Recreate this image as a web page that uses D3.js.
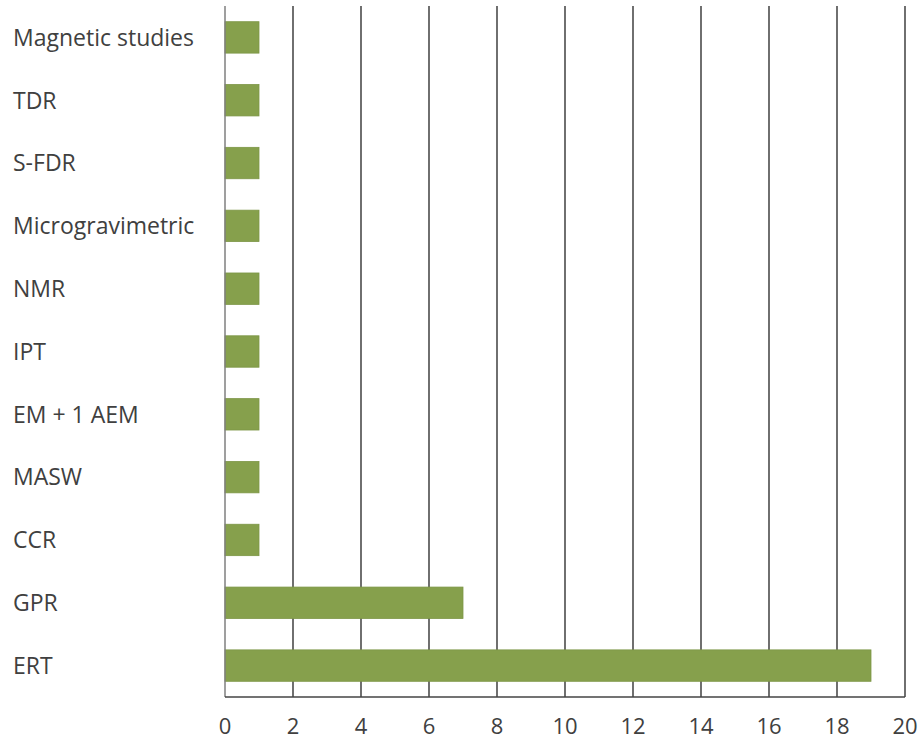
<!DOCTYPE html>
<html><head><meta charset="utf-8">
<script src="https://cdn.jsdelivr.net/npm/d3@7"></script>
<style>body{margin:0;background:#fff}</style>
</head><body>
<svg id="c" width="920" height="741"></svg>
<script>
const categories = ["Magnetic studies","TDR","S-FDR","Microgravimetric","NMR","IPT","EM + 1 AEM","MASW","CCR","GPR","ERT"];
const values = [1,1,1,1,1,1,1,1,1,7,19];
const xTicks = [0,2,4,6,8,10,12,14,16,18,20];

const svg = d3.select("#c");
const pLeft = 225, pRight = 905, pTop = 6, pBottom = 697;
const x = d3.scaleLinear().domain([0,20]).range([pLeft,pRight]);
const y = d3.scaleBand().domain(categories).range([pTop,pBottom]).paddingInner(0.5).paddingOuter(0.25);
const font = "Open Sans, sans-serif";

// gridlines
svg.append("g").selectAll("line").data(xTicks.slice(1)).join("line")
  .attr("x1",d=>x(d)).attr("x2",d=>x(d)).attr("y1",pTop).attr("y2",pBottom)
  .attr("stroke","#222").attr("stroke-width",1.3);

// bars
svg.append("g").selectAll("rect").data(categories).join("rect")
  .attr("x",x(0)).attr("y",d=>y(d))
  .attr("width",(d,i)=>x(values[i])-x(0)).attr("height",y.bandwidth())
  .attr("fill","#86A04C").attr("stroke","#7d9646").attr("stroke-width",0.8);

// axes lines
svg.append("line").attr("x1",pLeft).attr("x2",pLeft).attr("y1",pTop).attr("y2",pBottom)
  .attr("stroke","#7f7f7f").attr("stroke-width",1.5);
svg.append("line").attr("x1",pLeft).attr("x2",pRight).attr("y1",pBottom).attr("y2",pBottom)
  .attr("stroke","#444").attr("stroke-width",1.5);

// category labels
svg.append("g").selectAll("text").data(categories).join("text")
  .attr("x",13).attr("y",d=>y(d)+y.bandwidth()/2).attr("dy","0.36em")
  .attr("font-family",font).attr("font-size",23).attr("fill","#404040")
  .text(d=>d);

// tick labels
svg.append("g").selectAll("text").data(xTicks).join("text")
  .attr("x",d=>x(d)).attr("y",734).attr("text-anchor","middle")
  .attr("font-family",font).attr("font-size",22).attr("fill","#404040")
  .text(d=>d);
</script>
</body></html>
